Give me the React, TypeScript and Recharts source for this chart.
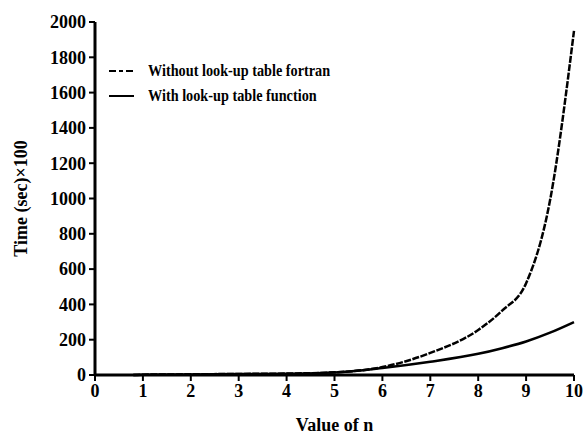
import { LineChart, Line, XAxis, YAxis } from "recharts";

// n values and the two timing series (sec × 100)
const nValues = [0.8, 1, 2, 3, 4, 5, 6, 7, 8, 8.5, 9, 9.5, 10];
const withoutTable = [0, 2, 4, 6, 8, 15, 45, 125, 255, 365, 520, 990, 1950];
const withTable = [0, 1, 3, 5, 7, 14, 40, 75, 120, 152, 190, 240, 300];

const xTicks = [0, 1, 2, 3, 4, 5, 6, 7, 8, 9, 10];
const yTicks = [0, 200, 400, 600, 800, 1000, 1200, 1400, 1600, 1800, 2000];

const data = nValues.map((n, i) => ({
  n,
  without: withoutTable[i],
  with: withTable[i],
}));

const FONT = "'Liberation Serif', 'Times New Roman', Times, serif";
const tickStyle = { fontSize: 18, fontWeight: 700, fill: "#000", fontFamily: FONT };

const legendItems = [
  { label: "Without look-up table fortran", dash: "7 3 4 3" },
  { label: "With look-up table function", dash: undefined },
];

function LegendBox() {
  return (
    <div
      style={{
        position: "absolute",
        left: 109,
        top: 58,
        fontFamily: FONT,
        fontWeight: 700,
        fontSize: 16,
        color: "#000",
      }}
    >
      {legendItems.map((it) => (
        <div key={it.label} style={{ display: "flex", alignItems: "center", height: 25 }}>
          <svg width={25} height={6} style={{ marginRight: 14 }}>
            <line x1={0} y1={3} x2={25} y2={3} stroke="#000" strokeWidth={2} strokeDasharray={it.dash} />
          </svg>
          <span style={{ display: "inline-block", transform: "scaleX(0.89)", transformOrigin: "left center", whiteSpace: "nowrap" }}>
            {it.label}
          </span>
        </div>
      ))}
    </div>
  );
}

export default function App() {
  return (
    <div style={{ position: "absolute", left: 0, top: 0, width: 586, height: 440, background: "#fff", fontFamily: FONT }}>
      <LineChart width={586} height={440} data={data} margin={{ top: 22, right: 12, left: 0, bottom: 0 }}>
        <XAxis
          dataKey="n"
          type="number"
          domain={[0, 10]}
          ticks={xTicks}
          height={65}
          tick={tickStyle}
          tickSize={6}
          tickMargin={3}
          axisLine={{ stroke: "#000", strokeWidth: 3 }}
          tickLine={{ stroke: "#000", strokeWidth: 2 }}
        />
        <YAxis
          type="number"
          domain={[0, 2000]}
          ticks={yTicks}
          width={95}
          tick={tickStyle}
          tickSize={6}
          tickMargin={3}
          interval={0}
          axisLine={{ stroke: "#000", strokeWidth: 3 }}
          tickLine={{ stroke: "#000", strokeWidth: 2 }}
          label={{
            value: "Time (sec)×100",
            angle: -90,
            position: "insideLeft",
            offset: 21,
            style: { ...tickStyle, textAnchor: "middle" },
          }}
        />
        <Line
          dataKey="without"
          type="monotone"
          stroke="#000"
          strokeWidth={2.5}
          strokeDasharray="7 1.5"
          dot={false}
          isAnimationActive={false}
        />
        <Line
          dataKey="with"
          type="monotone"
          stroke="#000"
          strokeWidth={2.5}
          dot={false}
          isAnimationActive={false}
        />
      </LineChart>
      <div
        style={{
          position: "absolute",
          left: 95,
          width: 479,
          top: 414,
          textAlign: "center",
          fontFamily: FONT,
          fontWeight: 700,
          fontSize: 18,
          lineHeight: "22px",
          color: "#000",
        }}
      >
        Value of n
      </div>
      <LegendBox />
    </div>
  );
}
